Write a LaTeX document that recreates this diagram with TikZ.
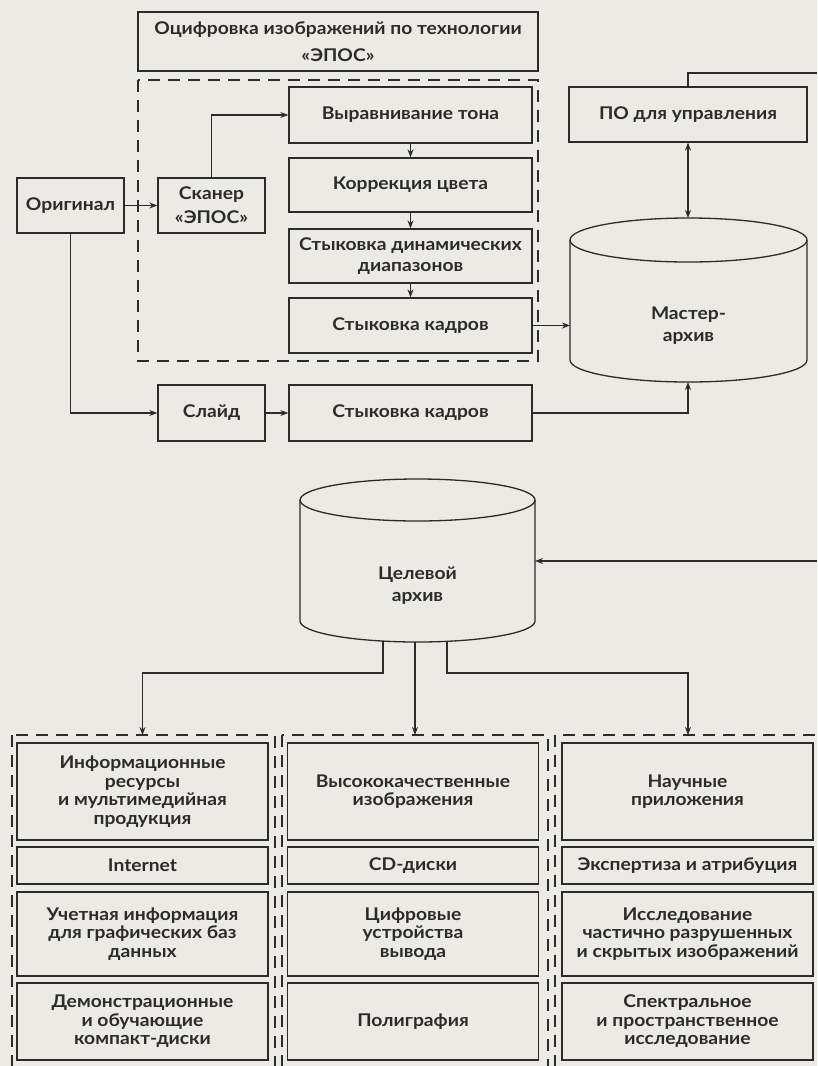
\documentclass[tikz,border=0pt]{standalone}
\usepackage{fontspec}
\setmainfont{Lato}[FakeStretch=1.1]
\usetikzlibrary{arrows.meta}
\definecolor{paper}{HTML}{ECEAE4}
\definecolor{ink}{HTML}{2B2B2B}
\tikzset{
  box/.style={draw=ink, line width=1.3pt, text=ink, align=center, inner sep=0pt,
    font=\bfseries\fontsize{17.5}{21}\selectfont},
  lbl/.style={text=ink, align=center, inner sep=0pt, font=\bfseries\fontsize{17.5}{22}\selectfont},
  conn/.style={draw=ink, line width=1.2pt},
  arr/.style={conn, -{Stealth[length=8pt,width=6pt]}},
  darr/.style={conn, {Stealth[length=8pt,width=6pt]}-{Stealth[length=8pt,width=6pt]}},
  grp/.style={draw=ink, line width=1.2pt, dash pattern=on 12pt off 8pt},
  cyl/.style={draw=ink, line width=1.3pt},
}
\begin{document}
\begin{tikzpicture}[x=1pt,y=-1pt]
\fill[paper] (0,0) rectangle (817,1066);
\useasboundingbox (0,0) rectangle (817,1066);
\clip (0,0) rectangle (817,1066);

% dashed groups
\draw[grp] (138,80) rectangle (538,361);
\draw[grp] (12,735) rectangle (275,1090);
\draw[grp] (282,735) rectangle (548,1090);
\draw[grp] (555,735) rectangle (840,1090);

% top boxes
\node[box, minimum width=400pt, minimum height=59pt, font=\bfseries\fontsize{17.5}{27}\selectfont] (top) at (338,41.5) {Оцифровка изображений по технологии\\«ЭПОС»};
\node[box, minimum width=243pt, minimum height=56pt] (ton) at (410.5,115) {Выравнивание тона};
\node[box, minimum width=243pt, minimum height=54pt] (color) at (410.5,185) {Коррекция цвета};
\node[box, minimum width=243pt, minimum height=54pt] (dyn) at (410.5,256) {Стыковка динамических\\диапазонов};
\node[box, minimum width=243pt, minimum height=55pt] (kadr1) at (410.5,325.5) {Стыковка кадров};
\node[box, minimum width=107pt, minimum height=55pt] (orig) at (70.5,205.5) {Оригинал};
\node[box, minimum width=107pt, minimum height=55pt, font=\bfseries\fontsize{17.5}{24}\selectfont] (scan) at (211.5,205.5) {Сканер\\«ЭПОС»};
\node[box, minimum width=107pt, minimum height=56pt] (slide) at (211.5,413) {Слайд};
\node[box, minimum width=243pt, minimum height=56pt] (kadr2) at (410.5,413) {Стыковка кадров};
\node[box, minimum width=238pt, minimum height=55pt] (po) at (688,114.5) {ПО для управления};

% master archive cylinder
\draw[cyl] (688.5,240) ellipse[x radius=118.5pt, y radius=22pt];
\draw[cyl] (570,240) -- (570,360)
  .. controls (570,372.15) and (623.05,382) .. (688.5,382)
  .. controls (753.95,382) and (807,372.15) .. (807,360) -- (807,240);
\node[lbl] (master) at (688.5,326) {Мастер-\\архив};
\coordinate (mTop) at (688,218);
\coordinate (mBot) at (688,382);
\coordinate (mLeft) at (570,300);

% target archive cylinder
\draw[cyl] (417.5,500) ellipse[x radius=117.5pt, y radius=21pt];
\draw[cyl] (300,500) -- (300,621)
  .. controls (300,632.6) and (352.6,642) .. (417.5,642)
  .. controls (482.4,642) and (535,632.6) .. (535,621) -- (535,500);
\node[lbl] (target) at (417.5,586) {Целевой\\архив};
\coordinate (tRight) at (535,561);
\coordinate (tBL) at (383,641);
\coordinate (tBM) at (415,642);
\coordinate (tBR) at (447,641);

% bottom boxes
\tikzset{bb/.style={box, minimum width=251pt, font=\bfseries\fontsize{17.5}{18.5}\selectfont}}
\node[bb, minimum height=97pt] (b11) at (142.5,791.5) {Информационные\\ресурсы\\и мультимедийная\\продукция};
\node[bb, minimum height=37pt] (b12) at (142.5,865.5) {Internet};
\node[bb, minimum height=84pt] (b13) at (142.5,934) {Учетная информация\\для графических баз\\данных};
\node[bb, minimum height=77pt] (b14) at (142.5,1021.5) {Демонстрационные\\и обучающие\\компакт-диски};
\node[bb, minimum height=97pt] (b21) at (413,791.5) {Высококачественные\\изображения};
\node[bb, minimum height=37pt] (b22) at (413,865.5) {CD-диски};
\node[bb, minimum height=84pt] (b23) at (413,934) {Цифровые\\устройства\\вывода};
\node[bb, minimum height=77pt] (b24) at (413,1021.5) {Полиграфия};
\node[bb, minimum height=97pt] (b31) at (687.5,791.5) {Научные\\приложения};
\node[bb, minimum height=37pt] (b32) at (687.5,865.5) {Экспертиза и атрибуция};
\node[bb, minimum height=84pt] (b33) at (687.5,934) {Исследование\\частично разрушенных\\и скрытых изображений};
\node[bb, minimum height=77pt] (b34) at (687.5,1021.5) {Спектральное\\и пространственное\\исследование};

% connectors
\coordinate (poOut) at (817,73);
\coordinate (tIn) at (817,561);
\coordinate (g1) at (142.5,735);
\coordinate (g2) at (415,735);
\coordinate (g3) at (688,735);

\draw[arr] (orig) -- (scan);
\draw[arr] (scan.north) |- (ton.west);
\draw[arr] (ton) -- (color);
\draw[arr] (color) -- (dyn);
\draw[arr] (dyn) -- (kadr1);
\draw[arr] (orig.south) |- (slide.west);
\draw[arr] (slide) -- (kadr2);
\draw[arr] (kadr1.east) -- (kadr1.east -| mLeft);
\draw[arr] (kadr2.east) -| (mBot);
\draw[darr] (po.south) -- (mTop);
\draw[conn] (po.north) |- (poOut);
\draw[arr] (tIn) -- (tRight);
\draw[arr] (tBL) -- ++(0,32) -| (g1);
\draw[arr] (tBM) -- (g2);
\draw[arr] (tBR) -- ++(0,32) -| (g3);
\end{tikzpicture}
\end{document}
